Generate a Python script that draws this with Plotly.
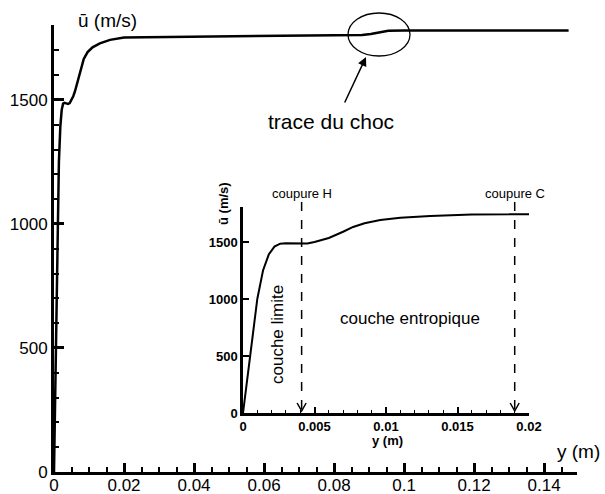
import plotly.graph_objects as go

# ---- data ----
y_m = [0, 0.0005, 0.001, 0.0014, 0.0018, 0.0022, 0.0026, 0.003, 0.0035, 0.004,
       0.0045, 0.005, 0.0055, 0.006, 0.007, 0.0077, 0.0085, 0.0096, 0.011, 0.0131,
       0.016, 0.02, 0.04, 0.06, 0.08, 0.088, 0.0905, 0.093, 0.0955, 0.1, 0.147]
u_ms = [0, 500, 1000, 1250, 1390, 1460, 1485, 1488, 1486, 1484,
        1487, 1500, 1515, 1535, 1590, 1632, 1665, 1693, 1712, 1728,
        1742, 1752, 1755, 1758, 1760, 1762, 1766, 1774, 1779, 1780, 1780]

main_xticks = [0, 0.02, 0.04, 0.06, 0.08, 0.1, 0.12, 0.14]
main_yticks = [0, 500, 1000, 1500]
inset_xticks = [0, 0.005, 0.01, 0.015, 0.02]
inset_yticks = [0, 500, 1000, 1500]
cut_positions = [0.0041, 0.019]
cut_labels = ["coupure H", "coupure C"]

# ---- geometry ----
W, H = 605, 494
L, R, T, B = 54, 28, 25, 22
PW, PH = W - L - R, H - T - B
XR_MAIN = [0, 0.1494]
YR_MAIN = [0, 1802]
XR_IN = [0, 0.02]
YR_IN = [0, 1807]
IN_PX = (243, 529)   # inset x pixels
IN_PY = (413, 207)   # inset y pixels (bottom, top)


def pxp(px):
    return (px - L) / PW


def pyp(py):
    return (H - B - py) / PH


def inset_px(xv):
    return IN_PX[0] + (xv - XR_IN[0]) / (XR_IN[1] - XR_IN[0]) * (IN_PX[1] - IN_PX[0])


FONT = "Liberation Sans, Arial, sans-serif"

fig = go.Figure()
fig.add_trace(go.Scatter(x=y_m, y=u_ms, mode="lines", line=dict(color="black", width=2.5),
                         xaxis="x", yaxis="y", showlegend=False, hoverinfo="skip"))
fig.add_trace(go.Scatter(x=y_m, y=u_ms, mode="lines", line=dict(color="black", width=2),
                         xaxis="x2", yaxis="y2", showlegend=False, hoverinfo="skip"))

axis_common = dict(showgrid=False, zeroline=False, showline=True, linecolor="black",
                   ticks="inside", tickcolor="black", automargin=False)

fig.update_layout(
    width=W, height=H,
    margin=dict(l=L, r=R, t=T, b=B),
    paper_bgcolor="white", plot_bgcolor="white",
    font=dict(family=FONT, color="black"),
    xaxis=dict(**axis_common, domain=[0, 1], range=XR_MAIN, linewidth=3,
               tickvals=main_xticks, ticklen=9, tickwidth=2.5, ticklabelstandoff=-4,
               minor=dict(ticks="inside", dtick=0.005, ticklen=5, tickwidth=1.5, tickcolor="black"),
               tickfont=dict(size=17, family=FONT), anchor="y"),
    yaxis=dict(**axis_common, domain=[0, 1], range=YR_MAIN, linewidth=3,
               tickvals=main_yticks, ticklen=10, tickwidth=2.5,
               minor=dict(ticks="inside", dtick=100, ticklen=5, tickwidth=1.5, tickcolor="black"),
               tickfont=dict(size=17, family=FONT), anchor="x"),
    xaxis2=dict(**axis_common, domain=[pxp(IN_PX[0]), pxp(IN_PX[1])], range=XR_IN,
                linewidth=2.5, tickvals=inset_xticks, ticklen=6, tickwidth=2,
                minor=dict(ticks="inside", dtick=0.001, ticklen=3, tickwidth=1, tickcolor="black"),
                tickfont=dict(size=13, family="Liberation Sans, Arial", weight="bold"),
                anchor="y2"),
    yaxis2=dict(**axis_common, domain=[pyp(IN_PY[0]), pyp(IN_PY[1])], range=YR_IN,
                linewidth=2.5, tickvals=inset_yticks, ticklen=6, tickwidth=2,
                tickfont=dict(size=13, family="Liberation Sans, Arial", weight="bold"),
                anchor="x2"),
)

ann = []


def label(text, px, py, size, angle=0):
    ann.append(dict(text=text, x=pxp(px), y=pyp(py), xref="paper", yref="paper",
                    xanchor="center", yanchor="middle", showarrow=False,
                    textangle=angle, font=dict(size=size)))


# main axis titles
label("ū (m/s)", 107, 20, 19)
label("y (m)", 578, 451, 19)
# inset axis titles
label("<b>y (m)</b>", 387, 440, 13)
label("<b>ū (m/s)</b>", 223, 204, 13, -90)
# shock annotation
label("trace du choc", 331, 122, 21)
ann.append(dict(text="", x=pxp(366), y=pyp(57), xref="paper", yref="paper",
                ax=344 - 366, ay=104 - 57, axref="pixel", ayref="pixel",
                showarrow=True, arrowhead=2, arrowsize=1.2, arrowwidth=1.5, arrowcolor="black"))
# inset region labels
label("couche entropique", 410, 318, 17)
label("couche limite", 277, 335, 17, -90)

shapes = [dict(type="circle", xref="paper", yref="paper",
               x0=pxp(348), x1=pxp(410), y0=pyp(56), y1=pyp(13),
               line=dict(color="black", width=1.3))]

for xv, lab in zip(cut_positions, cut_labels):
    px = inset_px(xv)
    label(lab, px, 193, 13)
    shapes.append(dict(type="line", xref="paper", yref="paper",
                       x0=pxp(px), x1=pxp(px), y0=pyp(202), y1=pyp(411),
                       line=dict(color="black", width=1.5, dash="dash")))
    shapes.append(dict(type="path", xref="paper", yref="paper",
                       path=f"M {pxp(px-4.5)},{pyp(403)} L {pxp(px)},{pyp(411)} L {pxp(px+4.5)},{pyp(403)}",
                       line=dict(color="black", width=1.5)))

fig.update_layout(annotations=ann, shapes=shapes)

fig.write_html("out.html", config={"displayModeBar": False},
               post_script="document.body.style.margin='0';document.body.style.overflow='hidden';")
